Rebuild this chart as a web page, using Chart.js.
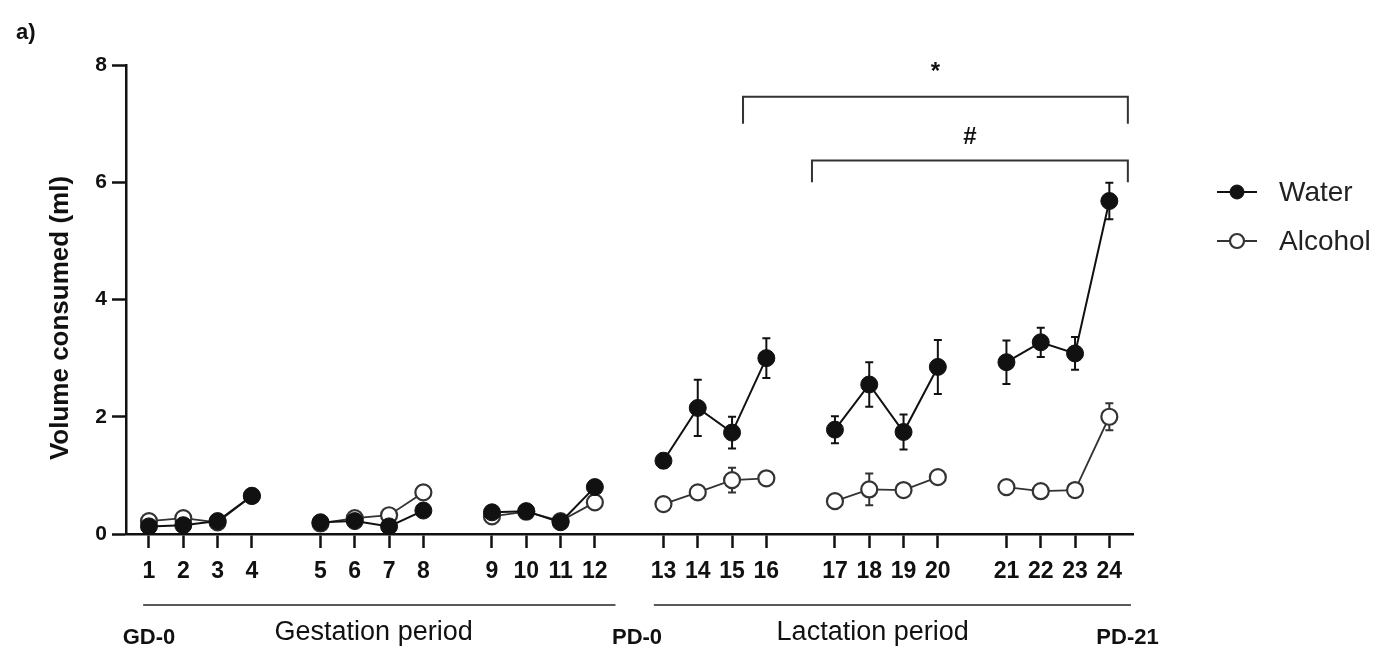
<!DOCTYPE html>
<html>
<head>
<meta charset="utf-8">
<script src="https://cdn.jsdelivr.net/npm/chart.js@4.4.0/dist/chart.umd.min.js"></script>
<style>
  html, body { margin: 0; padding: 0; background: #fff; }
  #wrap { width: 1386px; height: 657px; }
</style>
</head>
<body>
<div id="wrap"><canvas id="volumeChart" width="1386" height="657"></canvas></div>
<script>
// 資料
const days = ['1','2','3','4','5','6','7','8','9','10','11','12',
              '13','14','15','16','17','18','19','20','21','22','23','24'];
const waterMean   = [0.13, 0.15, 0.22, 0.65, 0.20, 0.22, 0.13, 0.40, 0.37, 0.39, 0.20, 0.80,
                     1.25, 2.15, 1.73, 3.00, 1.78, 2.55, 1.74, 2.85, 2.93, 3.27, 3.08, 5.68];
const waterSem    = [0.03, 0.03, 0.03, 0.05, 0.03, 0.03, 0.03, 0.05, 0.05, 0.04, 0.04, 0.06,
                     0.12, 0.48, 0.27, 0.34, 0.23, 0.38, 0.30, 0.46, 0.37, 0.25, 0.28, 0.31];
const alcoholMean = [0.22, 0.27, 0.20, 0.65, 0.18, 0.27, 0.32, 0.71, 0.30, 0.38, 0.22, 0.54,
                     0.51, 0.71, 0.92, 0.95, 0.56, 0.76, 0.75, 0.97, 0.80, 0.73, 0.75, 2.00];
const alcoholSem  = [0.02, 0.02, 0.02, 0.03, 0.02, 0.02, 0.03, 0.04, 0.03, 0.03, 0.02, 0.04,
                     0.05, 0.06, 0.21, 0.05, 0.05, 0.27, 0.05, 0.08, 0.05, 0.04, 0.04, 0.23];
const yTicks = [0, 2, 4, 6, 8];
const legendLabels = ['Water', 'Alcohol'];
const yTitle = 'Volume consumed (ml)';
const panelLabel = 'a)';

// 顯著性標記 (x 為軸上位置, y 為數值)
const brackets = [
  { text: '*', from: 17.32, to: 28.54, y: 7.46, leg: 7.0, textY: 7.87 },
  { text: '#', from: 19.33, to: 28.54, y: 6.37, leg: 6.0, textY: 6.77 }
];
// 時期標示
const periodLines = [[-0.17, 13.6], [14.72, 28.63]];
const periodTexts = [
  { text: 'GD-0', at: 0, bold: true },
  { text: 'Gestation period', at: 6.55, bold: false },
  { text: 'PD-0', at: 14.23, bold: true },
  { text: 'Lactation period', at: 21.1, bold: false },
  { text: 'PD-21', at: 28.53, bold: true }
];

const FONT = "'Liberation Sans', Arial, Helvetica, sans-serif";
const NARROW = "'Liberation Sans Narrow', 'Arial Narrow', 'Liberation Sans', Arial, sans-serif";
const INK = '#111';

// 每4天一組, 組間空一格
const dayPos = days.map((d, i) => i + Math.floor(i / 4));

function toPoints(values, sem) {
  const pts = [];
  values.forEach((v, i) => {
    if (i > 0 && i % 4 === 0) pts.push({ x: dayPos[i] - 1, y: null });
    pts.push({ x: dayPos[i], y: v, sem: sem[i] });
  });
  return pts;
}

// 誤差線
const errorBars = {
  id: 'errorBars',
  beforeDatasetsDraw(chart) {
    const ctx = chart.ctx;
    const xs = chart.scales.x, ys = chart.scales.y;
    chart.data.datasets.forEach((ds) => {
      ctx.save();
      ctx.strokeStyle = ds.borderColor;
      ctx.lineWidth = 2;
      ds.data.forEach((p) => {
        if (p.y === null) return;
        const px = xs.getPixelForValue(p.x);
        const top = ys.getPixelForValue(p.y + p.sem);
        const bot = ys.getPixelForValue(p.y - p.sem);
        ctx.beginPath();
        ctx.moveTo(px, top); ctx.lineTo(px, bot);
        ctx.moveTo(px - 4, top); ctx.lineTo(px + 4, top);
        ctx.moveTo(px - 4, bot); ctx.lineTo(px + 4, bot);
        ctx.stroke();
      });
      ctx.restore();
    });
  }
};

// 其他標註
const extras = {
  id: 'extras',
  afterDraw(chart) {
    const ctx = chart.ctx;
    const xs = chart.scales.x, ys = chart.scales.y;
    ctx.save();

    // 顯著性括號
    ctx.strokeStyle = '#333';
    ctx.lineWidth = 2;
    ctx.fillStyle = INK;
    ctx.textAlign = 'center';
    ctx.textBaseline = 'middle';
    brackets.forEach((b) => {
      const x1 = xs.getPixelForValue(b.from), x2 = xs.getPixelForValue(b.to);
      const y = ys.getPixelForValue(b.y), yl = ys.getPixelForValue(b.leg);
      ctx.beginPath();
      ctx.moveTo(x1, yl); ctx.lineTo(x1, y); ctx.lineTo(x2, y); ctx.lineTo(x2, yl);
      ctx.stroke();
      ctx.font = 'bold 24px ' + FONT;
      ctx.fillText(b.text, (x1 + x2) / 2, ys.getPixelForValue(b.textY));
    });

    // 時期線和文字
    ctx.strokeStyle = '#222';
    ctx.lineWidth = 1.5;
    periodLines.forEach(([a, b]) => {
      ctx.beginPath();
      ctx.moveTo(xs.getPixelForValue(a), 605);
      ctx.lineTo(xs.getPixelForValue(b), 605);
      ctx.stroke();
    });
    periodTexts.forEach((t) => {
      ctx.font = (t.bold ? 'bold 22px ' : '27px ') + FONT;
      ctx.fillText(t.text, xs.getPixelForValue(t.at), t.bold ? 638 : 633);
    });

    // y 軸標題
    ctx.save();
    ctx.translate(61, 318);
    ctx.rotate(-Math.PI / 2);
    ctx.font = 'bold 26px ' + FONT;
    ctx.fillText(yTitle, 0, 0);
    ctx.restore();

    // 面板標號
    ctx.textAlign = 'left';
    ctx.font = 'bold 22px ' + FONT;
    ctx.fillText(panelLabel, 16, 33);

    // 圖例
    chart.data.datasets.forEach((ds, i) => {
      const y = 192 + i * 49;
      ctx.strokeStyle = ds.borderColor;
      ctx.lineWidth = 2;
      ctx.beginPath();
      ctx.moveTo(1217, y); ctx.lineTo(1257, y);
      ctx.stroke();
      ctx.beginPath();
      ctx.arc(1237, y, 7, 0, Math.PI * 2);
      ctx.fillStyle = ds.pointBackgroundColor;
      ctx.fill();
      ctx.lineWidth = ds.pointBorderWidth;
      ctx.strokeStyle = ds.pointBorderColor;
      ctx.stroke();
      ctx.fillStyle = '#222';
      ctx.font = '28px ' + FONT;
      ctx.textAlign = 'left';
      ctx.fillText(ds.label, 1279, y + 1);
    });

    ctx.restore();
  }
};

document.addEventListener('DOMContentLoaded', function() {
  const ctx = document.getElementById('volumeChart').getContext('2d');

  const axisGrid = {
    display: true,
    drawOnChartArea: false,
    drawTicks: true,
    tickLength: 14,
    tickWidth: 2.5,
    tickColor: INK
  };

  new Chart(ctx, {
    type: 'line',
    data: {
      datasets: [{
        label: legendLabels[0],
        data: toPoints(waterMean, waterSem),
        borderColor: INK,
        borderWidth: 2,
        pointRadius: 8.5,
        pointBackgroundColor: INK,
        pointBorderColor: INK,
        pointBorderWidth: 1,
        spanGaps: false,
        tension: 0
      }, {
        label: legendLabels[1],
        data: toPoints(alcoholMean, alcoholSem),
        borderColor: '#333',
        borderWidth: 1.8,
        pointRadius: 8,
        pointBackgroundColor: '#fff',
        pointBorderColor: '#333',
        pointBorderWidth: 2.2,
        spanGaps: false,
        tension: 0
      }]
    },
    options: {
      responsive: false,
      animation: false,
      layout: { padding: { top: 65, right: 253, left: 0, bottom: 0 } },
      scales: {
        x: {
          type: 'linear',
          min: -0.67,
          max: 28.69,
          afterBuildTicks: (s) => { s.ticks = dayPos.map((v) => ({ value: v })); },
          afterFit: (s) => { s.height = 123; },
          ticks: {
            autoSkip: false,
            maxRotation: 0,
            padding: 10,
            color: INK,
            font: { family: NARROW, size: 23, weight: 'bold' },
            callback: (v, i) => days[i]
          },
          grid: axisGrid,
          border: { display: true, width: 2.5, color: INK }
        },
        y: {
          min: 0,
          max: 8,
          afterBuildTicks: (s) => { s.ticks = yTicks.map((v) => ({ value: v })); },
          afterFit: (s) => { s.width = 126; },
          ticks: {
            padding: 5,
            color: INK,
            font: { family: FONT, size: 21, weight: 'bold' }
          },
          grid: axisGrid,
          border: { display: true, width: 2.5, color: INK }
        }
      },
      plugins: {
        legend: { display: false },
        tooltip: { enabled: false }
      }
    },
    plugins: [errorBars, extras]
  });
});
</script>
</body>
</html>
